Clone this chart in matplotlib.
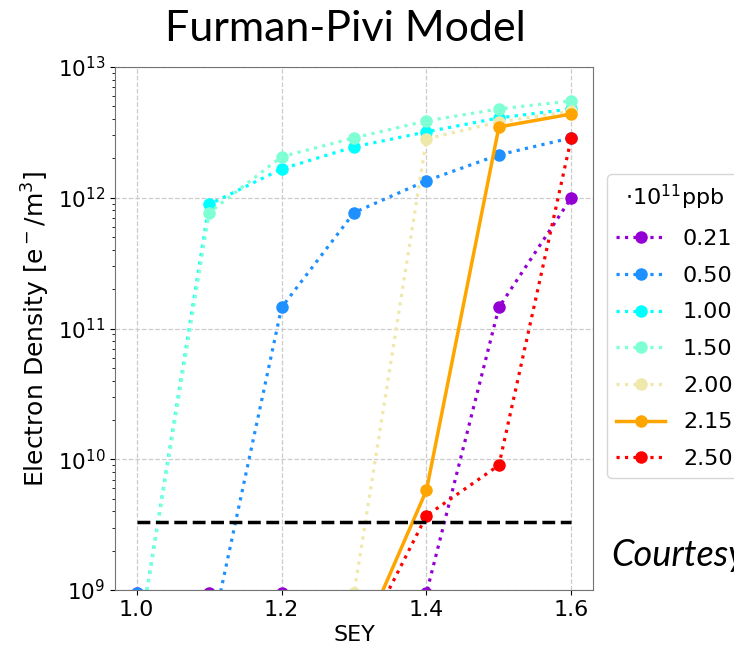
import numpy as np
import matplotlib
matplotlib.use('Agg')
import matplotlib.pyplot as plt

# SEY scan and peak electron density per bunch population
sey = [1.0, 1.1, 1.2, 1.3, 1.4, 1.5, 1.6]
ne_021 = [9.5e8, 9.5e8, 9.5e8, 1e8, 9.5e8, 1.45e11, 1.0e12]
ne_050 = [9.5e8, 3.8e8, 1.45e11, 7.7e11, 1.35e12, 2.13e12, 2.87e12]
ne_100 = [3.3e8, 8.9e11, 1.66e12, 2.45e12, 3.19e12, 4.08e12, 4.78e12]
ne_150 = [3.3e8, 7.7e11, 2.06e12, 2.87e12, 3.87e12, 4.78e12, 5.5e12]
ne_200 = [1e8, 1e8, 1e8, 9.5e8, 2.82e12, 3.8e12, 4.6e12]
ne_215 = [1e8, 1e8, 1e8, 3.1e8, 5.8e9, 3.48e12, 4.37e12]
ne_250 = [1e8, 1e8, 1e8, 3.0e8, 3.7e9, 9.0e9, 2.87e12]
threshold = 3.3e9

labels = ['0.21', '0.50', '1.00', '1.50', '2.00', '2.15', '2.50']
colors = ['darkviolet', 'dodgerblue', 'cyan', 'aquamarine', 'palegoldenrod', 'orange', 'red']
series = [ne_021, ne_050, ne_100, ne_150, ne_200, ne_215, ne_250]

fig = plt.figure(figsize=(7.34, 6.48), dpi=100)
ax = fig.add_axes([0.1567, 0.0895, 0.6513, 0.8071])

for lab, col, ne in zip(labels, colors, series):
    ls = '-' if lab == '2.15' else ':'
    ax.plot(sey, ne, ls, color=col, lw=2.3 if ls == ':' else 2.5,
            marker='o', ms=8, label=lab)

ax.plot([sey[0], sey[-1]], [threshold, threshold], 'k--', lw=2.5)

ax.set_yscale('log')
ax.set_ylim(1e9, 1e13)
ax.set_xlim(0.97, 1.63)
ax.set_xticks([1.0, 1.2, 1.4, 1.6])
ax.grid(True, ls='--', color='0.8', lw=0.9)
ax.tick_params(axis='x', labelsize=16)
ax.tick_params(axis='y', labelsize=15.5)
for s in ax.spines.values():
    s.set_color('0.45')

ax.set_xlabel('SEY', fontsize=16)
ax.set_ylabel(r'Electron Density [e$^-$/m$^3$]', fontsize=18)

leg = ax.legend(title=r'$\cdot 10^{11}$ppb', fontsize=16, title_fontsize=16,
                loc='upper left', bbox_to_anchor=(1.03, 0.795), borderaxespad=0,
                handlelength=2.2, labelspacing=0.75)

fig.text(0.47, 0.955, 'Furman-Pivi Model', fontsize=31, family='Lato',
         ha='center', va='center')
fig.text(0.833, 0.143, 'Courtesy', fontsize=26, family='Lato', style='italic',
         ha='left', va='center')

fig.savefig('out.png', dpi=100)
